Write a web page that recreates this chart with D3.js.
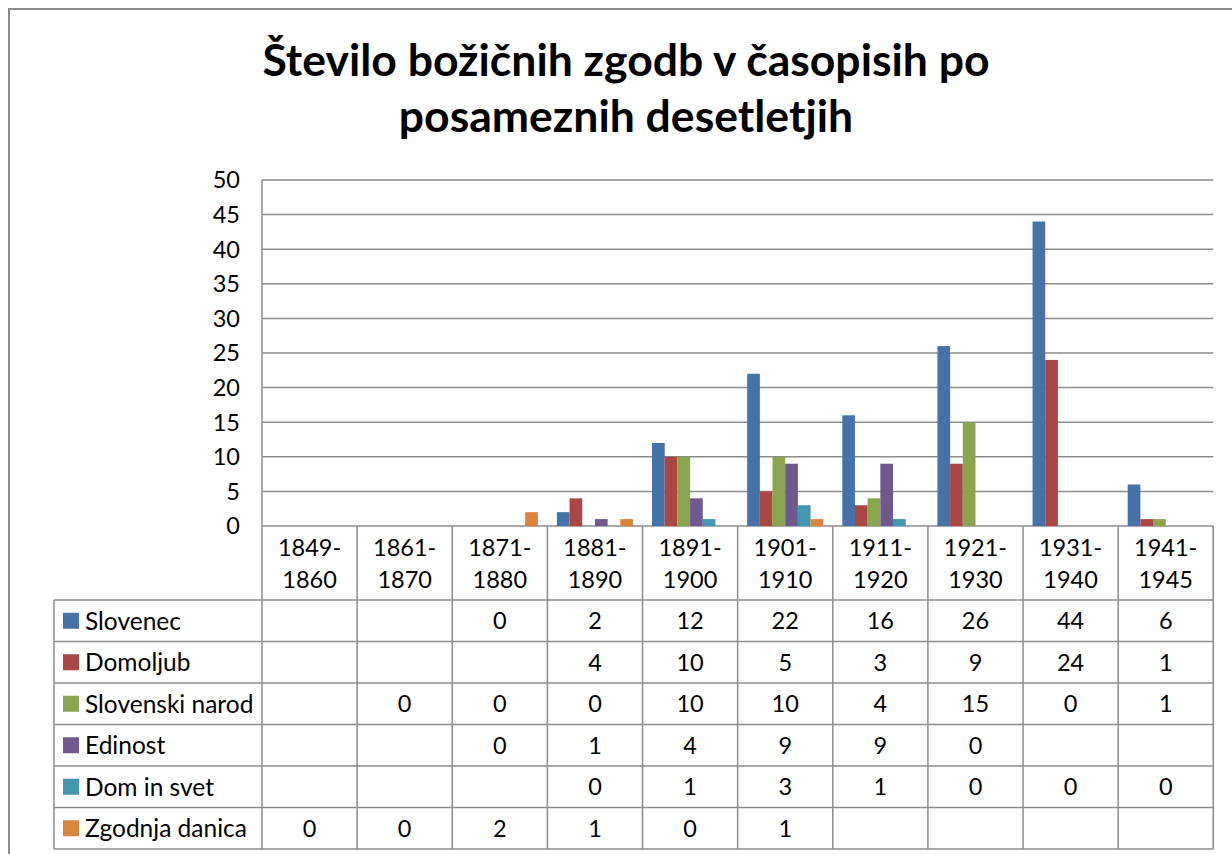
<!DOCTYPE html>
<html>
  <head>
    <meta charset="utf-8" />
    <title>Število božičnih zgodb</title>
    <script src="https://d3js.org/d3.v7.min.js"></script>
    <style>
      body { margin: 0; background: #fff; }
      text { font-family: Lato, 'Open Sans', sans-serif; fill: #000; }
    </style>
  </head>
  <body>
    <script>
      // data
      const decades = [
        ['1849-', '1860'],
        ['1861-', '1870'],
        ['1871-', '1880'],
        ['1881-', '1890'],
        ['1891-', '1900'],
        ['1901-', '1910'],
        ['1911-', '1920'],
        ['1921-', '1930'],
        ['1931-', '1940'],
        ['1941-', '1945'],
      ];
      const seriesNames = ['Slovenec', 'Domoljub', 'Slovenski narod', 'Edinost', 'Dom in svet', 'Zgodnja danica'];
      const slovenec = [null, null, 0, 2, 12, 22, 16, 26, 44, 6];
      const domoljub = [null, null, null, 4, 10, 5, 3, 9, 24, 1];
      const slovenskiNarod = [null, 0, 0, 0, 10, 10, 4, 15, 0, 1];
      const edinost = [null, null, 0, 1, 4, 9, 9, 0, null, null];
      const domInSvet = [null, null, null, 0, 1, 3, 1, 0, 0, 0];
      const zgodnjaDanica = [0, 0, 2, 1, 0, 1, null, null, null, null];
      const yTicks = [0, 5, 10, 15, 20, 25, 30, 35, 40, 45, 50];
      const titleLines = ['Število božičnih zgodb v časopisih po', 'posameznih desetletjih'];

      const allSeries = [slovenec, domoljub, slovenskiNarod, edinost, domInSvet, zgodnjaDanica];
      const colors = ['#4572A7', '#AA4643', '#89A54E', '#71588F', '#4198AF', '#DB843D'];

      const W = 1232, H = 854;
      const plot = { left: 262, right: 1213.3, top: 180, bottom: 526 };
      const headerBottom = 600;
      const rowH = 41.5;
      const legendLeft = 54;
      const lineCol = '#8c8c8c';

      const svg = d3.select('body').append('svg').attr('width', W).attr('height', H);

      // outer chart border
      svg.append('rect')
        .attr('x', 9).attr('y', 9)
        .attr('width', 1240).attr('height', 900)
        .attr('fill', 'none').attr('stroke', '#8c8c8c').attr('stroke-width', 2);

      // title
      svg.selectAll('.title')
        .data(titleLines)
        .enter()
        .append('text')
        .attr('class', 'title')
        .attr('x', 626)
        .attr('y', (d, i) => 76 + i * 56)
        .attr('text-anchor', 'middle')
        .style('font-size', '44.5px')
        .style('font-weight', 'bold')
        .text((d) => d);

      const x = d3.scaleBand()
        .domain(d3.range(decades.length))
        .range([plot.left, plot.right]);

      const xs = d3.scaleBand()
        .domain(d3.range(seriesNames.length))
        .range([0, x.bandwidth()])
        .paddingInner(0)
        .paddingOuter(0.75);

      const y = d3.scaleLinear().domain([0, 50]).range([plot.bottom, plot.top]);

      // gridlines
      svg.append('g')
        .selectAll('line')
        .data(yTicks)
        .enter()
        .append('line')
        .attr('x1', plot.left).attr('x2', plot.right)
        .attr('y1', (d) => y(d)).attr('y2', (d) => y(d))
        .attr('stroke', lineCol).attr('stroke-width', 1.5);

      // y tick labels
      svg.append('g')
        .selectAll('text')
        .data(yTicks)
        .enter()
        .append('text')
        .attr('x', 240)
        .attr('y', (d) => y(d))
        .attr('dy', '0.36em')
        .attr('text-anchor', 'end')
        .style('font-size', '23.5px')
        .text((d) => d);

      // bars
      allSeries.forEach((vals, s) => {
        svg.append('g')
          .selectAll('rect')
          .data(vals.map((v, i) => ({ v, i })).filter((d) => d.v !== null && d.v > 0))
          .enter()
          .append('rect')
          .attr('x', (d) => x(d.i) + xs(s))
          .attr('y', (d) => y(d.v))
          .attr('width', xs.bandwidth())
          .attr('height', (d) => y(0) - y(d.v))
          .attr('fill', colors[s]);
      });

      // data table
      const tableBottom = headerBottom + rowH * seriesNames.length;
      const tbl = svg.append('g').attr('stroke', lineCol).attr('stroke-width', 1.5);

      // vertical lines between categories
      tbl.selectAll('.vline')
        .data(d3.range(decades.length + 1))
        .enter()
        .append('line')
        .attr('x1', (d) => (d < decades.length ? x(d) : plot.right))
        .attr('x2', (d) => (d < decades.length ? x(d) : plot.right))
        .attr('y1', (d) => (d === 0 ? plot.top : plot.bottom))
        .attr('y2', tableBottom);

      // legend column left border
      tbl.append('line')
        .attr('x1', legendLeft).attr('x2', legendLeft)
        .attr('y1', headerBottom).attr('y2', tableBottom);

      // horizontal row lines
      tbl.selectAll('.hline')
        .data(d3.range(seriesNames.length + 1))
        .enter()
        .append('line')
        .attr('x1', legendLeft).attr('x2', plot.right)
        .attr('y1', (d) => headerBottom + d * rowH)
        .attr('y2', (d) => headerBottom + d * rowH);

      // header labels
      decades.forEach((lab, i) => {
        svg.append('g')
          .selectAll('text')
          .data(lab)
          .enter()
          .append('text')
          .attr('x', x(i) + x.bandwidth() / 2)
          .attr('y', (d, j) => 556 + j * 32)
          .attr('text-anchor', 'middle')
          .style('font-size', '23.5px')
          .text((d) => d);
      });

      // legend rows
      seriesNames.forEach((name, s) => {
        const top = headerBottom + s * rowH;
        svg.append('rect')
          .attr('x', 63).attr('y', top + rowH / 2 - 8)
          .attr('width', 16).attr('height', 16)
          .attr('fill', colors[s]);
        svg.append('text')
          .attr('x', 85).attr('y', top + rowH / 2)
          .attr('dy', '0.36em')
          .style('font-size', '24.5px')
          .text(name);
        svg.append('g')
          .selectAll('text')
          .data(allSeries[s].map((v, i) => ({ v, i })).filter((d) => d.v !== null))
          .enter()
          .append('text')
          .attr('x', (d) => x(d.i) + x.bandwidth() / 2)
          .attr('y', top + rowH / 2)
          .attr('dy', '0.36em')
          .attr('text-anchor', 'middle')
          .style('font-size', '23.5px')
          .text((d) => d.v);
      });
    </script>
  </body>
</html>
